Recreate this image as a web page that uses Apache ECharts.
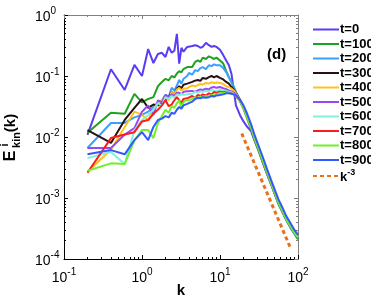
<!DOCTYPE html>
<html>
<head>
<meta charset="utf-8">
<script src="https://cdn.jsdelivr.net/npm/echarts@6/dist/echarts.min.js"></script>
<style>
html,body{margin:0;padding:0;background:#fff;}
#c{width:371px;height:300px;}
</style>
</head>
<body>
<div id="c"></div>
<script>
// wavenumbers k
var K = [0.2,0.4,0.6,0.8,1.0,1.2,1.4,1.6,1.8,2.0,2.2,2.4,2.6,2.8,3.0,3.2,3.4,3.6,3.8,4.0,4.4,4.8,5.2,5.6,6.0,6.6,7.2,7.8,8.4,9.0,10,11,12,13,14,15,16,18,20,22,25,28,32,36,40,45,50,56,63,71,80,90,100];

var seriesNames = ['t=0','t=100','t=200','t=300','t=400','t=500','t=600','t=700','t=800','t=900'];
var seriesColors = ['#5a3cf2','#1fa21f','#3aa0ff','#2a1014','#ffc21a','#9a48f0','#80f0dc','#ff1a1a','#6ef02a','#3458ff'];

var E_t0 = [0.0108,0.129,0.059,0.152,0.100,0.277,0.163,0.23,0.24,0.205,0.30,0.24,0.26,0.49,0.16,0.29,0.25,0.25,0.30,0.28,0.31,0.32,0.31,0.29,0.30,0.35,0.32,0.30,0.31,0.30,0.27,0.22,0.18,0.15,0.11,0.059,0.033,0.023,0.018,0.015,0.0125,0.0085,0.0055,0.0036,0.0025,0.0017,0.0012,0.00082,0.0006,0.00043,0.00033,0.00026,0.00022];
var E_t100 = [0.0117,0.025,0.024,0.051,0.037,0.042,0.045,0.068,0.08,0.09,0.085,0.10,0.095,0.11,0.12,0.115,0.13,0.125,0.14,0.15,0.14,0.17,0.18,0.17,0.20,0.19,0.21,0.20,0.19,0.20,0.18,0.16,0.12,0.095,0.08,0.066,0.053,0.039,0.029,0.021,0.0135,0.0086,0.0055,0.0036,0.0025,0.0017,0.00118,0.0008,0.00059,0.00043,0.00033,0.00026,0.00021];
var E_t200 = [0.0066,0.017,0.017,0.021,0.023,0.026,0.031,0.037,0.040,0.049,0.045,0.064,0.058,0.070,0.086,0.075,0.090,0.085,0.10,0.112,0.105,0.125,0.12,0.135,0.14,0.13,0.15,0.145,0.155,0.15,0.15,0.135,0.116,0.095,0.08,0.067,0.055,0.040,0.030,0.022,0.0145,0.0092,0.0058,0.0038,0.0026,0.00175,0.00122,0.00084,0.00062,0.00044,0.00034,0.00027,0.00022];
var E_t300 = [0.013,0.008,0.019,0.030,0.042,0.030,0.034,0.033,0.036,0.040,0.045,0.055,0.050,0.062,0.068,0.063,0.072,0.070,0.075,0.077,0.080,0.084,0.086,0.083,0.093,0.090,0.096,0.10,0.095,0.10,0.093,0.088,0.080,0.075,0.066,0.060,0.053,0.041,0.031,0.0225,0.015,0.0095,0.006,0.0039,0.0027,0.0018,0.00126,0.00086,0.00063,0.00045,0.00035,0.00027,0.00023];
var E_t400 = [0.0027,0.0062,0.0146,0.026,0.023,0.019,0.028,0.036,0.040,0.045,0.040,0.055,0.050,0.060,0.064,0.058,0.062,0.066,0.063,0.066,0.070,0.068,0.071,0.074,0.072,0.077,0.075,0.079,0.077,0.078,0.077,0.074,0.068,0.066,0.062,0.058,0.052,0.040,0.031,0.022,0.0148,0.0094,0.006,0.0039,0.0027,0.0018,0.00127,0.00087,0.00063,0.00045,0.00035,0.00027,0.00023];
var E_t500 = [0.0066,0.0066,0.011,0.014,0.026,0.033,0.023,0.040,0.037,0.049,0.045,0.050,0.047,0.053,0.053,0.050,0.055,0.052,0.056,0.055,0.057,0.055,0.058,0.060,0.059,0.062,0.060,0.065,0.066,0.064,0.066,0.063,0.061,0.058,0.056,0.053,0.050,0.039,0.030,0.022,0.0146,0.0093,0.0059,0.0039,0.0027,0.0018,0.00126,0.00086,0.00063,0.00045,0.00035,0.00027,0.00023];
var E_t600 = [0.0045,0.0057,0.0036,0.013,0.019,0.023,0.028,0.036,0.033,0.045,0.042,0.047,0.044,0.050,0.048,0.051,0.049,0.052,0.050,0.053,0.051,0.055,0.053,0.056,0.055,0.057,0.056,0.059,0.058,0.057,0.059,0.058,0.057,0.055,0.054,0.051,0.048,0.038,0.029,0.0215,0.0145,0.0092,0.0059,0.0039,0.0027,0.0018,0.00126,0.00086,0.00063,0.00045,0.00035,0.00027,0.00023];
var E_t700 = [0.0026,0.0096,0.011,0.012,0.018,0.019,0.024,0.028,0.033,0.040,0.032,0.034,0.040,0.045,0.040,0.036,0.042,0.045,0.043,0.045,0.047,0.044,0.049,0.047,0.050,0.048,0.052,0.050,0.055,0.053,0.055,0.054,0.055,0.053,0.052,0.050,0.047,0.039,0.030,0.022,0.0147,0.0094,0.006,0.004,0.0027,0.0018,0.00127,0.00088,0.00064,0.00046,0.00036,0.00028,0.00024];
var E_t800 = [0.0028,0.0037,0.0036,0.0089,0.013,0.013,0.0096,0.017,0.022,0.028,0.025,0.032,0.030,0.036,0.040,0.030,0.037,0.040,0.038,0.040,0.042,0.045,0.043,0.046,0.045,0.047,0.046,0.049,0.048,0.050,0.053,0.052,0.054,0.053,0.051,0.050,0.047,0.039,0.030,0.022,0.0146,0.0093,0.0059,0.0039,0.0027,0.0018,0.00126,0.00086,0.00063,0.00045,0.00035,0.00027,0.00023];
var E_t900 = [0.0052,0.0061,0.0052,0.0089,0.012,0.0089,0.0146,0.019,0.020,0.022,0.021,0.025,0.024,0.028,0.031,0.029,0.033,0.032,0.035,0.037,0.038,0.042,0.044,0.043,0.045,0.044,0.045,0.047,0.046,0.048,0.049,0.050,0.052,0.052,0.051,0.050,0.048,0.041,0.033,0.025,0.0163,0.0104,0.0066,0.0044,0.003,0.002,0.0014,0.00096,0.0007,0.0005,0.00039,0.0003,0.00025];

// k^-3 reference line endpoints
var refK = [19, 80];
var refE = [0.0114, 0.000152];

var xTicks = [0.1, 1, 10, 100];
var yTicks = [0.0001, 0.001, 0.01, 0.1, 1];
var xMinor = [0.2,0.3,0.4,0.5,0.6,0.7,0.8,0.9,2,3,4,5,6,7,8,9,20,30,40,50,60,70,80,90];
var yMinor = [0.0002,0.0003,0.0004,0.0005,0.0006,0.0007,0.0008,0.0009,0.002,0.003,0.004,0.005,0.006,0.007,0.008,0.009,0.02,0.03,0.04,0.05,0.06,0.07,0.08,0.09,0.2,0.3,0.4,0.5,0.6,0.7,0.8,0.9];

var allE = [E_t0,E_t100,E_t200,E_t300,E_t400,E_t500,E_t600,E_t700,E_t800,E_t900];

var FONT = 'Liberation Sans, Arial, Helvetica, sans-serif';
var chart = echarts.init(document.getElementById('c'), null, {renderer:'canvas'});

function pow10Label(v){
  var e = Math.round(Math.log10(v));
  return '{b|10}{s|' + e + '}';
}
var tickRich = {
  b: {fontSize: 14, fontFamily: FONT, color: '#000', lineHeight: 18, verticalAlign: 'bottom'},
  s: {fontSize: 10, fontFamily: FONT, color: '#000', lineHeight: 18, verticalAlign: 'top'}
};

function logAxis(extra){
  var base = {
    type: 'log', logBase: 10, gridIndex: 0,
    splitLine: {show: false},
    axisLine: {show: true, onZero: false, lineStyle: {color: '#000', width: 1}},
    axisTick: {show: true, inside: true, length: 4, lineStyle: {color: '#000', width: 1}},
    axisLabel: {show: false}
  };
  for (var k in extra) base[k] = extra[k];
  return base;
}

var series = allE.map(function(arr, i){
  return {
    name: seriesNames[i], type: 'line', xAxisIndex: 0, yAxisIndex: 0,
    data: K.map(function(k, j){ return [k, arr[j]]; }),
    symbol: 'none', showSymbol: false,
    lineStyle: {color: seriesColors[i], width: 2},
    itemStyle: {color: seriesColors[i]},
    animation: false, silent: true
  };
});
series.push({
  name: 'k^-3', type: 'line', xAxisIndex: 0, yAxisIndex: 0,
  data: refK.map(function(k, j){ return [k, refE[j]]; }),
  symbol: 'none', showSymbol: false,
  lineStyle: {color: '#e8711c', width: 3, type: [4, 3]},
  itemStyle: {color: '#e8711c'},
  animation: false, silent: true, z: 5
});

var option = {
  animation: false,
  backgroundColor: '#fff',
  grid: {left: 64, right: 73, top: 15, bottom: 41, containLabel: false},
  xAxis: [
    logAxis({min: 0.1, max: 100, position: 'bottom',
      axisTick: {show: true, inside: true, length: 4, customValues: xTicks, lineStyle: {color: '#000'}},
      axisLabel: {show: true, customValues: xTicks, margin: 8, formatter: pow10Label, rich: tickRich}}),
    logAxis({min: 0.1, max: 100, position: 'bottom', axisLine: {show: false, onZero:false},
      axisTick: {show: true, inside: true, length: 2, customValues: xMinor, lineStyle: {color: '#000'}}}),
    logAxis({min: 0.1, max: 100, position: 'top',
      axisLine: {show: true, onZero:false, lineStyle: {color: '#808080'}},
      axisTick: {show: true, inside: true, length: 4, customValues: xTicks, lineStyle: {color: '#808080'}}}),
    logAxis({min: 0.1, max: 100, position: 'top', axisLine: {show: false, onZero:false},
      axisTick: {show: true, inside: true, length: 2, customValues: xMinor, lineStyle: {color: '#808080'}}})
  ],
  yAxis: [
    logAxis({min: 0.0001, max: 1, position: 'left',
      axisTick: {show: true, inside: true, length: 4, customValues: yTicks, lineStyle: {color: '#000'}},
      axisLabel: {show: true, customValues: yTicks, margin: 29, align: 'left', formatter: pow10Label, rich: tickRich}}),
    logAxis({min: 0.0001, max: 1, position: 'left', axisLine: {show: false, onZero:false},
      axisTick: {show: true, inside: true, length: 2, customValues: yMinor, lineStyle: {color: '#000'}}}),
    logAxis({min: 0.0001, max: 1, position: 'right',
      axisLine: {show: true, onZero:false, lineStyle: {color: '#808080'}},
      axisTick: {show: true, inside: true, length: 4, customValues: yTicks, lineStyle: {color: '#808080'}}}),
    logAxis({min: 0.0001, max: 1, position: 'right', axisLine: {show: false, onZero:false},
      axisTick: {show: true, inside: true, length: 2, customValues: yMinor, lineStyle: {color: '#808080'}}})
  ],
  legend: {
    orient: 'vertical', left: 307, top: 18,
    itemWidth: 26, itemHeight: 14, itemGap: 1.5,
    itemStyle: {opacity: 0, borderWidth: 0},
    data: seriesNames.concat(['k^-3']),
    textStyle: {fontFamily: FONT, fontSize: 13, fontWeight: 'bold', color: '#000', padding: [0,0,0,-4],
      rich: {
        n: {fontFamily: FONT, fontSize: 13, fontWeight: 'bold', color: '#000'},
        k: {fontFamily: FONT, fontSize: 13, fontWeight: 'bold', color: '#000', verticalAlign: 'bottom', lineHeight: 16},
        s: {fontFamily: FONT, fontSize: 9, fontWeight: 'bold', color: '#000', verticalAlign: 'top', lineHeight: 16}
      }},
    formatter: function(name){
      if (name === 'k^-3') return '{k|k}{s|-3}';
      return '{n|' + name + '}';
    },
    selectedMode: false
  },
  graphic: [
    {type: 'text', left: 267, top: 47, style: {text: '(d)', font: 'bold 15px ' + FONT, fill: '#000'}},
    {type: 'text', x: 181, y: 291, style: {text: 'k', font: 'bold 15px ' + FONT, fill: '#000', align: 'center', verticalAlign: 'middle'}},
    {type: 'text', x: 11, y: 156, rotation: Math.PI/2, style: {text: 'E', font: 'bold 16px ' + FONT, fill: '#000', align: 'center', verticalAlign: 'middle'}},
    {type: 'text', x: 5, y: 145, rotation: Math.PI/2, style: {text: 'i', font: 'bold 11px ' + FONT, fill: '#000', align: 'center', verticalAlign: 'middle'}},
    {type: 'text', x: 17, y: 140, rotation: Math.PI/2, style: {text: 'kin', font: 'bold 11px ' + FONT, fill: '#000', align: 'center', verticalAlign: 'middle'}},
    {type: 'text', x: 11, y: 123, rotation: Math.PI/2, style: {text: '(k)', font: 'bold 15px ' + FONT, fill: '#000', align: 'center', verticalAlign: 'middle'}}
  ],
  series: series
};
chart.setOption(option);
</script>
</body>
</html>
